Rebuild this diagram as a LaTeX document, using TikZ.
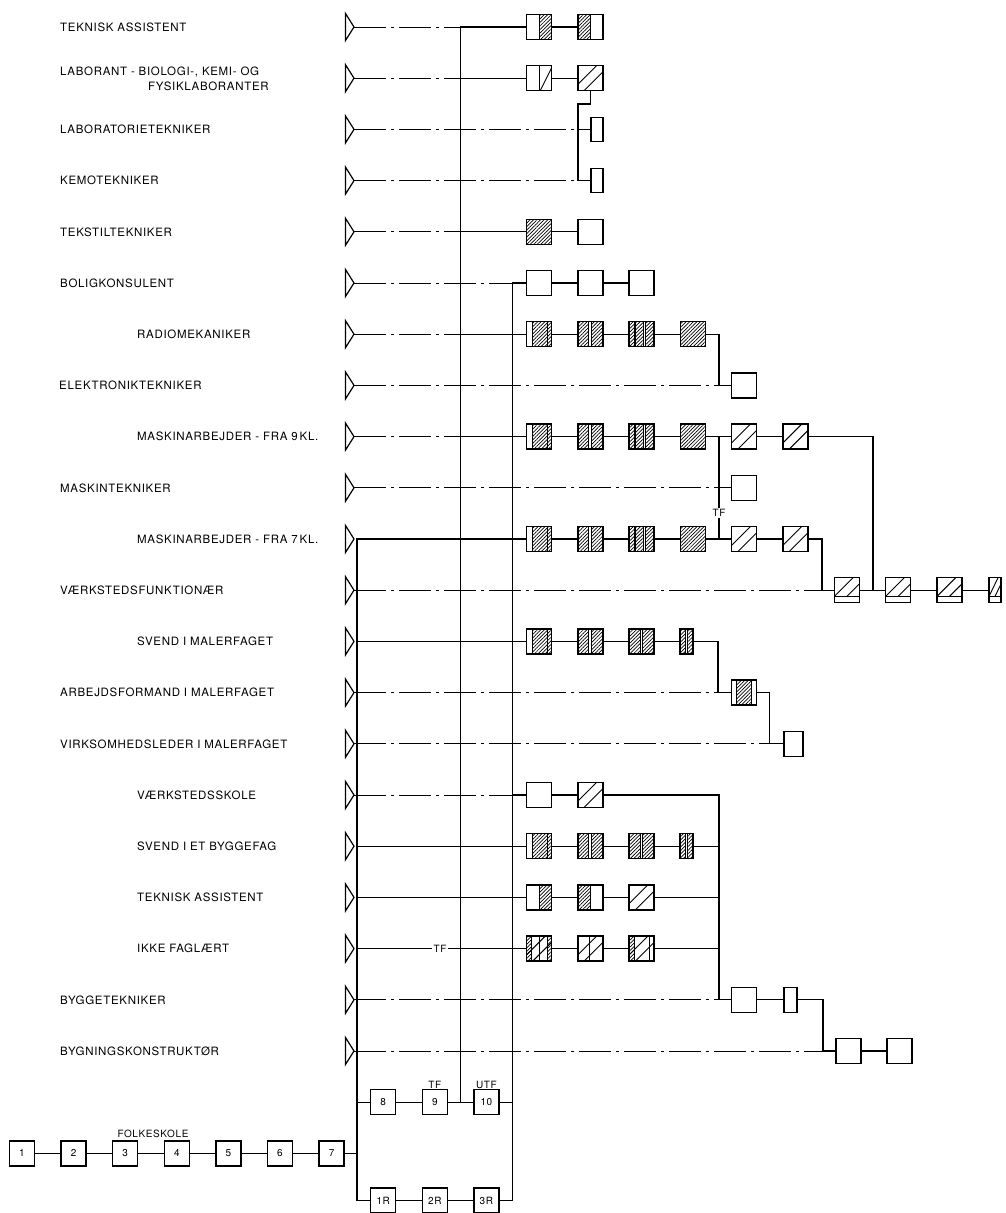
\documentclass[tikz,border=0pt]{standalone}
\usepackage{fontspec}
\setmainfont{TeX Gyre Heros}[LetterSpace=6]
\usetikzlibrary{patterns.meta,calc}
\def\pb{path picture bounding box}
\newcommand\HFill[2]{\fill[pattern={Lines[angle=45,distance=2.5pt,line width=0.7pt]}] ($(\pb.south west)!#1!(\pb.south east)$) rectangle ($(\pb.north west)!#2!(\pb.north east)$);}
\newcommand\VDiv[1]{\draw[line width=0.9pt] ($(\pb.south west)!#1!(\pb.south east)$) -- ($(\pb.north west)!#1!(\pb.north east)$);}
\newcommand\WStrip[2]{\fill[white] ($(\pb.south west)!#1!(\pb.south east)$) rectangle ($(\pb.north west)!#2!(\pb.north east)$);\VDiv{#1}\VDiv{#2}}
\newcommand\SpLines{\draw[line width=0.9pt] ($(\pb.south west)!0.25!(\pb.south east)$) -- ($(\pb.north east)!0.25!(\pb.south east)$);\draw[line width=0.9pt] ($(\pb.south west)!0.25!(\pb.north west)$) -- ($(\pb.north west)!0.75!(\pb.north east)$);}
\newcommand\BotStrip{\fill[white] (\pb.south west) rectangle ($(\pb.south east)!0.26!(\pb.north east)$);\draw[line width=0.9pt] ($(\pb.south west)!0.26!(\pb.north west)$) -- ($(\pb.south east)!0.26!(\pb.north east)$);}
\tikzset{
  bx/.style={draw,line width=1.5pt,fill=white,minimum width=25pt,minimum height=25pt,inner sep=0pt,font=\fontsize{10}{12}\selectfont},
  nbx/.style={bx,minimum width=13pt},
  sbx/.style={bx,minimum width=12pt,minimum height=24pt},
  bxH/.style={bx,path picture={\HFill{0}{1}}},
  bxR/.style={bx,path picture={\HFill{0.5}{1}\VDiv{0.5}}},
  bxL/.style={bx,path picture={\HFill{0}{0.5}\VDiv{0.5}}},
  bxRs/.style={bx,path picture={\VDiv{0.5}\draw[line width=0.9pt] ($(\pb.south west)!0.55!(\pb.south east)$) -- ($(\pb.north east)!0.1!(\pb.south east)$);}},
  bxS/.style={bx,path picture={\SpLines}},
  bxA/.style={bx,path picture={\HFill{0.22}{1}\VDiv{0.22}\VDiv{0.84}}},
  bxB/.style={bx,path picture={\HFill{0}{1}\WStrip{0.44}{0.54}}},
  bxC/.style={bx,path picture={\HFill{0}{1}\WStrip{0.2}{0.26}\WStrip{0.56}{0.64}}},
  bxD/.style={bx,path picture={\HFill{0.2}{0.8}\VDiv{0.2}\VDiv{0.8}}},
  bxSB/.style={bx,path picture={\SpLines\BotStrip}},
  nbxSB/.style={bxSB,minimum width=12pt},
  nbxH/.style={bx,minimum width=13pt,path picture={\HFill{0}{1}\WStrip{0.45}{0.58}}},
  bxEa/.style={bx,path picture={\HFill{0}{0.18}\HFill{0.82}{1}\SpLines\VDiv{0.18}\VDiv{0.5}\VDiv{0.82}}},
  bxEb/.style={bx,path picture={\SpLines\VDiv{0.45}}},
  bxEc/.style={bx,path picture={\HFill{0}{0.2}\SpLines\VDiv{0.2}\VDiv{0.8}}},
  ln/.style={line width=1.35pt},
  dd/.style={line width=1pt,dash pattern=on 32pt off 5pt on 3pt off 5pt},
  tri/.style={line width=1.2pt,line join=miter},
  lab/.style={anchor=base west,inner sep=0pt,font=\fontsize{11.5}{13}\selectfont},
  tf/.style={fill=white,inner sep=1.5pt,font=\fontsize{10}{12}\selectfont},
  sm/.style={anchor=base,inner sep=0pt,font=\fontsize{10}{12}\selectfont}
}
\begin{document}
\begin{tikzpicture}[x=1pt,y=-1pt]
\useasboundingbox (0,0) rectangle (1005,1213);
\fill[white] (0,0) rectangle (1005,1213);

% triangles
\foreach \i/\y in {1/27,2/78.2,3/129.4,4/180.6,5/231.8,6/283,7/334.2,8/385.4,9/436.6,10/487.8,11/539,12/590.2,13/641.4,14/692.6,15/743.8,16/795,17/846.2,18/897.4,19/948.6,20/999.8,21/1051}{
  \coordinate (t\i) at (354,\y);
  \draw[tri] (t\i) -- ++(-8.5,-13.5) -- ++(0,27) -- cycle;
}

% labels
\node[lab] (l1) at (60,31.2) {TEKNISK ASSISTENT};
\node[lab] (l2a) at (60,75.2) {LABORANT - BIOLOGI-, KEMI- OG};
\node[lab] (l2b) at (148,90.2) {FYSIKLABORANTER};
\node[lab] (l3) at (60,133.6) {LABORATORIETEKNIKER};
\node[lab] (l4) at (60,184.8) {KEMOTEKNIKER};
\node[lab] (l5) at (60,236) {TEKSTILTEKNIKER};
\node[lab] (l6) at (60,287.2) {BOLIGKONSULENT};
\node[lab] (l7) at (137,338.4) {RADIOMEKANIKER};
\node[lab] (l8) at (59,389.6) {ELEKTRONIKTEKNIKER};
\node[lab] (l9) at (137,440.8) {MASKINARBEJDER - FRA 9\,KL.};
\node[lab] (l10) at (60,492) {MASKINTEKNIKER};
\node[lab] (l11) at (137,543.2) {MASKINARBEJDER - FRA 7\,KL.};
\node[lab] (l12) at (60,594.4) {VÆRKSTEDSFUNKTIONÆR};
\node[lab] (l13) at (137,645.6) {SVEND I MALERFAGET};
\node[lab] (l14) at (60,696.8) {ARBEJDSFORMAND I MALERFAGET};
\node[lab] (l15) at (60,748) {VIRKSOMHEDSLEDER I MALERFAGET};
\node[lab] (l16) at (137,799.2) {VÆRKSTEDSSKOLE};
\node[lab] (l17) at (137,850.4) {SVEND I ET BYGGEFAG};
\node[lab] (l18) at (137,901.6) {TEKNISK ASSISTENT};
\node[lab] (l19) at (137,952.8) {IKKE FAGLÆRT};
\node[lab] (l20) at (60,1004) {BYGGETEKNIKER};
\node[lab] (l21) at (60,1055.2) {BYGNINGSKONSTRUKTØR};

% boxes
\node[bxR] (r1c1) at (539,27) {};
\node[bxL] (r1c2) at (590.3,27) {};
\node[bxRs] (r2c1) at (539,78.2) {};
\node[bxS] (r2c2) at (590.3,78.2) {};
\node[sbx] (r3s) at (597,129.4) {};
\node[sbx] (r4s) at (597,180.6) {};
\node[bxH] (r5c1) at (539,231.8) {};
\node[bx] (r5c2) at (590.3,231.8) {};
\node[bx] (r6c1) at (539,283) {};
\node[bx] (r6c2) at (590.3,283) {};
\node[bx] (r6c3) at (641.6,283) {};
\node[bxA] (r7c1) at (539,334.2) {};
\node[bxB] (r7c2) at (590.3,334.2) {};
\node[bxC] (r7c3) at (641.6,334.2) {};
\node[bxH] (r7c4) at (692.9,334.2) {};
\node[bx] (r8c5) at (744.2,385.4) {};
\node[bxA] (r9c1) at (539,436.6) {};
\node[bxB] (r9c2) at (590.3,436.6) {};
\node[bxC] (r9c3) at (641.6,436.6) {};
\node[bxH] (r9c4) at (692.9,436.6) {};
\node[bxS] (r9c5) at (744.2,436.6) {};
\node[bxS] (r9c6) at (795.5,436.6) {};
\node[bx] (r10c5) at (744.2,487.8) {};
\node[bxA] (r11c1) at (539,539) {};
\node[bxB] (r11c2) at (590.3,539) {};
\node[bxC] (r11c3) at (641.6,539) {};
\node[bxH] (r11c4) at (692.9,539) {};
\node[bxS] (r11c5) at (744.2,539) {};
\node[bxS] (r11c6) at (795.5,539) {};
\node[bxSB] (r12c7) at (846.8,590.2) {};
\node[bxSB] (r12c8) at (898.1,590.2) {};
\node[bxSB] (r12c9) at (949.4,590.2) {};
\node[nbxSB] (r12c10) at (995,590.2) {};
\node[bxA] (r13c1) at (539,641.4) {};
\node[bxB] (r13c2) at (590.3,641.4) {};
\node[bxB] (r13c3) at (641.6,641.4) {};
\node[nbxH] (r13n) at (686.5,641.4) {};
\node[bxD] (r14c5) at (744.2,692.6) {};
\node[bx,minimum width=19pt] (r15b) at (793.5,743.8) {};
\node[bx] (r16c1) at (539,795) {};
\node[bxS] (r16c2) at (590.3,795) {};
\node[bxA] (r17c1) at (539,846.2) {};
\node[bxB] (r17c2) at (590.3,846.2) {};
\node[bxB] (r17c3) at (641.6,846.2) {};
\node[nbxH] (r17n) at (686.5,846.2) {};
\node[bxR] (r18c1) at (539,897.4) {};
\node[bxL] (r18c2) at (590.3,897.4) {};
\node[bxS] (r18c3) at (641.6,897.4) {};
\node[bxEa] (r19c1) at (539,948.6) {};
\node[bxEb] (r19c2) at (590.3,948.6) {};
\node[bxEc] (r19c3) at (641.6,948.6) {};
\node[bx] (r20c5) at (744.2,999.8) {};
\node[nbx] (r20n) at (790.5,999.8) {};
\node[bx] (r21a) at (848.5,1051) {};
\node[bx] (r21b) at (899.5,1051) {};

% school boxes
\node[bx] (b1) at (22,1153.4) {1};
\node[bx] (b2) at (73.6,1153.4) {2};
\node[bx] (b3) at (125.2,1153.4) {3};
\node[bx] (b4) at (176.8,1153.4) {4};
\node[bx] (b5) at (228.4,1153.4) {5};
\node[bx] (b6) at (280,1153.4) {6};
\node[bx] (b7) at (331.6,1153.4) {7};
\node[bx] (b8) at (383.2,1102.2) {8};
\node[bx] (b9) at (434.8,1102.2) {9};
\node[bx] (b10) at (486.4,1102.2) {10};
\node[bx] (bR1) at (383.2,1200.5) {1R};
\node[bx] (bR2) at (434.8,1200.5) {2R};
\node[bx] (bR3) at (486.4,1200.5) {3R};
\node[sm] (fk) at (153,1137.5) {FOLKESKOLE};
\node[sm] (tf9) at (434.8,1088) {TF};
\node[sm] (utf) at (486.4,1088) {UTF};

% coordinates
\coordinate (v1a) at (460.5,27);
\coordinate (v1b) at (460.5,1102.2);
\coordinate (v2a) at (512.5,283);
\coordinate (v2b) at (512.5,1200.5);
\coordinate (v0a) at (357,539);
\coordinate (v0b) at (357,1200.5);
\coordinate (j2) at (460.5,78.2);
\coordinate (j5) at (460.5,231.8);
\coordinate (j7) at (460.5,334.2);
\coordinate (j9) at (460.5,436.6);
\coordinate (k2) at (578,104);
\coordinate (k3) at (578,129.4);
\coordinate (k4) at (578,180.6);
\coordinate (e8) at (719,385.4);
\coordinate (f12) at (873,590.2);
\coordinate (g9) at (719,436.6);
\coordinate (g10) at (719,487.8);
\coordinate (g11) at (719,539);
\coordinate (h12) at (822,590.2);
\coordinate (j13) at (357,641.4);
\coordinate (m14) at (718,692.6);
\coordinate (p15) at (769.5,743.8);
\coordinate (j16) at (512.5,795);
\coordinate (q16) at (719,795);
\coordinate (j17) at (357,846.2);
\coordinate (q17) at (719,846.2);
\coordinate (j18) at (357,897.4);
\coordinate (q18) at (719,897.4);
\coordinate (j19) at (357,948.6);
\coordinate (q19) at (719,948.6);
\coordinate (q20) at (719,999.8);
\coordinate (s21) at (823,1051);
\coordinate (j22) at (357,1102.2);
\coordinate (j23) at (357,1153.4);
\coordinate (k22) at (512.5,1102.2);

% verticals
\draw[ln] (r1c1.west) -- (v1a) -- (v1b);
\draw[ln] (r6c1.west) -- (v2a) -- (v2b) -- (bR3.east);
\draw[ln] (r11c1.west) -- (v0a) -- (v0b) -- (bR1.west);

% dash-dot rows
\draw[dd] (t1) -- (v1a);
\draw[dd] (t2) -- (j2);
\draw[dd] (t3) -- (k3);
\draw[dd] (t4) -- (k4);
\draw[dd] (t5) -- (j5);
\draw[dd] (t6) -- (v2a);
\draw[dd] (t7) -- (j7);
\draw[dd] (t8) -- (e8);
\draw[dd] (t9) -- (j9);
\draw[dd] (t10) -- (g10);
\draw[dd] (t12) -- (h12);
\draw[dd] (t14) -- (m14);
\draw[dd] (t15) -- (p15);
\draw[dd] (t16) -- (j16);
\draw[dd] (t20) -- (q20);
\draw[dd] (t21) -- (s21);

% row connectors
\draw[ln] (r1c1) -- (r1c2);
\draw[ln] (j2) -- (r2c1);
\draw[ln] (r2c1) -- (r2c2);
\draw[ln] (r2c2.south) |- (k2) -- (k4);
\draw[ln] (k3) -- (r3s);
\draw[ln] (k4) -- (r4s);
\draw[ln] (j5) -- (r5c1);
\draw[ln] (r5c1) -- (r5c2);
\draw[ln] (r6c1) -- (r6c2);
\draw[ln] (r6c2) -- (r6c3);
\draw[ln] (j7) -- (r7c1);
\draw[ln] (r7c1) -- (r7c2);
\draw[ln] (r7c2) -- (r7c3);
\draw[ln] (r7c3) -- (r7c4);
\draw[ln] (r7c4.east) -| (e8) -- (r8c5);
\draw[ln] (j9) -- (r9c1);
\draw[ln] (r9c1) -- (r9c2);
\draw[ln] (r9c2) -- (r9c3);
\draw[ln] (r9c3) -- (r9c4);
\draw[ln] (r9c4) -- (r9c5);
\draw[ln] (r9c5) -- (r9c6);
\draw[ln] (r9c6.east) -| (f12);
\draw[ln] (g9) -- (g11);
\draw[ln] (g10) -- (r10c5);
\draw[ln] (r11c1) -- (r11c2);
\draw[ln] (r11c2) -- (r11c3);
\draw[ln] (r11c3) -- (r11c4);
\draw[ln] (r11c4) -- (r11c5);
\draw[ln] (r11c5) -- (r11c6);
\draw[ln] (r11c6.east) -| (h12) -- (r12c7);
\draw[ln] (r12c7) -- (r12c8);
\draw[ln] (r12c8) -- (r12c9);
\draw[ln] (r12c9) -- (r12c10);
\draw[ln] (j13) -- (r13c1);
\draw[ln] (r13c1) -- (r13c2);
\draw[ln] (r13c2) -- (r13c3);
\draw[ln] (r13c3) -- (r13n);
\draw[ln] (r13n.east) -| (m14) -- (r14c5);
\draw[ln] (r14c5.east) -| (p15) -- (r15b);
\draw[ln] (j16) -- (r16c1);
\draw[ln] (r16c1) -- (r16c2);
\draw[ln] (r16c2.east) -- (q16) -- (q20) -- (r20c5);
\draw[ln] (j17) -- (r17c1);
\draw[ln] (r17c1) -- (r17c2);
\draw[ln] (r17c2) -- (r17c3);
\draw[ln] (r17c3) -- (r17n);
\draw[ln] (r17n) -- (q17);
\draw[ln] (j18) -- (r18c1);
\draw[ln] (r18c1) -- (r18c2);
\draw[ln] (r18c2) -- (r18c3);
\draw[ln] (r18c3) -- (q18);
\draw[ln] (j19) -- (r19c1);
\draw[ln] (r19c1) -- (r19c2);
\draw[ln] (r19c2) -- (r19c3);
\draw[ln] (r19c3) -- (q19);
\draw[ln] (r20c5) -- (r20n);
\draw[ln] (r20n.east) -| (s21) -- (r21a);
\draw[ln] (r21a) -- (r21b);

% school connectors
\draw[ln] (b1) -- (b2);
\draw[ln] (b2) -- (b3);
\draw[ln] (b3) -- (b4);
\draw[ln] (b4) -- (b5);
\draw[ln] (b5) -- (b6);
\draw[ln] (b6) -- (b7);
\draw[ln] (b7) -- (j23);
\draw[ln] (j22) -- (b8);
\draw[ln] (b8) -- (b9);
\draw[ln] (b9) -- (b10);
\draw[ln] (b10) -- (k22);
\draw[ln] (bR1) -- (bR2);
\draw[ln] (bR2) -- (bR3);

% TF labels on lines
\node[tf] (tfa) at (719,513) {TF};
\node[tf] (tfb) at (440,948.6) {TF};
\end{tikzpicture}
\end{document}
